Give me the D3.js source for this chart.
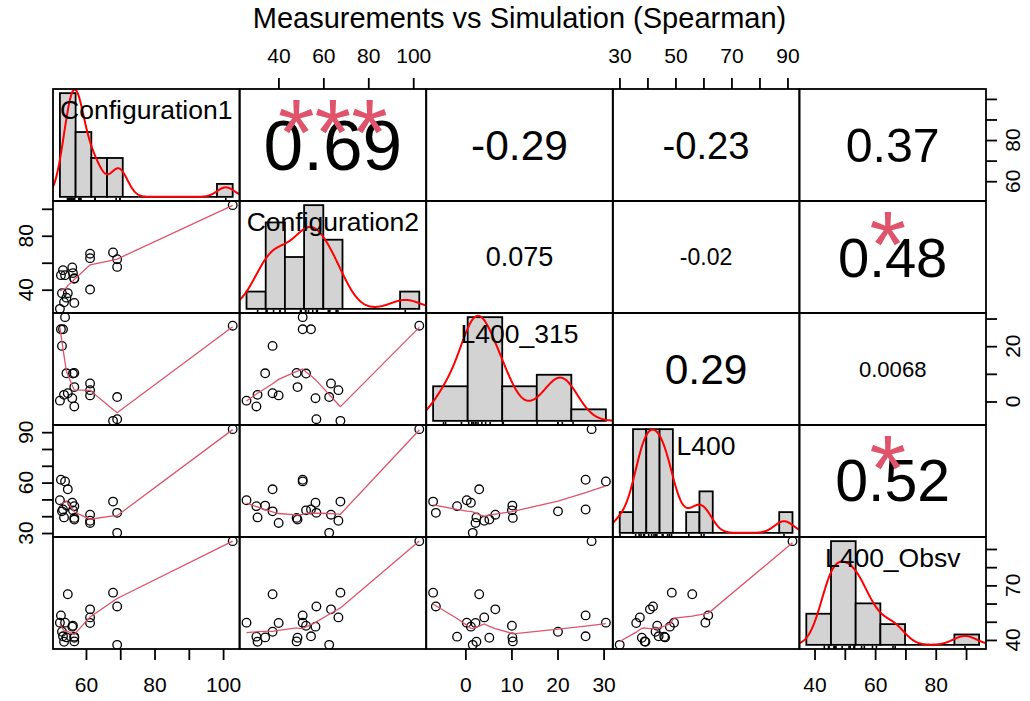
<!DOCTYPE html>
<html lang="en">
<head>
<meta charset="utf-8">
<script src="https://cdn.jsdelivr.net/npm/d3@7"></script>
<style>
  body { margin: 0; background: #fff; }
  text { font-family: "Liberation Sans", Arial, sans-serif; }
</style>
</head>
<body>
<script>
// ---- data ----
var varNames = ["Configuration1", "Configuration2", "L400_315", "L400", "L400_Obsv"];

var config1  = [102.8, 53.9, 52.7, 53.3, 53.0, 54.3, 54.7, 53.6, 52.4, 56.2, 56.6, 56.6, 56.6, 56.0, 61.2, 61.2, 61.2, 67.9, 69.1, 69.1];
var config2  = [102.7, 50.8, 50.8, 54.5, 37.4, 34.1, 37.4, 30.7, 25.8, 52.3, 30.2, 48.5, 48.1, 56.5, 63.4, 66.7, 40.1, 67.6, 62.6, 56.9];
var l400_315 = [27.4, 30.5, 26.1, 26.1, 20.1, 10.2, 3.0, 2.4, 0.3, 10.1, -1.8, 5.2, 10.3, 1.2, 6.5, 4.1, 2.2, -7.0, 1.6, -6.4];
var l400     = [91.8, 60.7, 61.7, 44.0, 42.9, 46.3, 56.0, 39.3, 49.5, 43.5, 46.0, 38.0, 39.0, 48.0, 40.9, 37.3, 36.0, 48.7, 30.1, 42.0];
var l400Obsv = [94.3, 49.5, 53.5, 42.0, 44.5, 41.4, 65.1, 39.0, 49.5, 47.8, 41.8, 41.2, 39.2, 47.3, 56.8, 52.4, 49.3, 66.0, 37.3, 58.4];

// histogram breaks per variable
var histBreaks = [
  [50, 55, 60, 65, 70, 75, 80, 85, 90, 95, 100, 105],
  [20, 30, 40, 50, 60, 70, 80, 90, 100, 110],
  [-10, 0, 10, 20, 30, 40],
  [30, 35, 40, 45, 50, 55, 60, 65, 70, 75, 80, 85, 90, 95],
  [30, 40, 50, 60, 70, 80, 90, 100]
];

// upper panels: spearman correlations
var corrPairs  = [[0, 1], [0, 2], [0, 3], [0, 4], [1, 2], [1, 3], [1, 4], [2, 3], [2, 4], [3, 4]];
var corrLabels = ["0.69", "-0.29", "-0.23", "0.37", "0.075", "-0.02", "0.48", "0.29", "0.0068", "0.52"];
var corrStars  = ["***", "", "", "", "", "", "*", "", "", "*"];

// axis ticks and the labels R kept
var axisTicks = [
  [60, 70, 80, 90, 100],
  [40, 60, 80, 100],
  [0, 10, 20, 30],
  [30, 40, 50, 60, 70, 80, 90],
  [40, 50, 60, 70, 80, 90]
];
var colTickLabels = [[60, 80, 100], [40, 60, 80, 100], [0, 10, 20, 30], [30, 50, 70, 90], [40, 60, 80]];
var rowTickLabels = [[60, 80], [40, 80], [0, 20], [30, 60, 90], [40, 70]];

var title = "Measurements vs Simulation (Spearman)";

// ---- layout ----
var width = 1030, height = 701;
var gLeft = 53, gRight = 986, gTop = 89, gBottom = 649;
var nv = 5;
var cw = (gRight - gLeft) / nv, rh = (gBottom - gTop) / nv;
var data = [config1, config2, l400_315, l400, l400Obsv];
var n = config1.length;

var svg = d3.select("body").append("svg")
    .attr("width", width)
    .attr("height", height);

// pairs() style scales: data range + 4%
function padded(ext) {
  var r = ext[1] - ext[0];
  return [ext[0] - 0.04 * r, ext[1] + 0.04 * r];
}
var xScales = data.map(function(d, j) {
  return d3.scaleLinear().domain(padded(d3.extent(d))).range([gLeft + j * cw, gLeft + (j + 1) * cw]);
});
var yScales = data.map(function(d, i) {
  return d3.scaleLinear().domain(padded(d3.extent(d))).range([gTop + (i + 1) * rh, gTop + i * rh]);
});

// clip paths
var defs = svg.append("defs");
for (var i = 0; i < nv; i++) for (var j = 0; j < nv; j++) {
  defs.append("clipPath").attr("id", "clip" + i + j)
    .append("rect").attr("x", gLeft + j * cw).attr("y", gTop + i * rh).attr("width", cw).attr("height", rh);
}

// ---- lowess (port of R clowess) ----
function lowest(x, y, n, xs, nleft, nright, userw, rw) {
  var range = x[n - 1] - x[0];
  var h = Math.max(xs - x[nleft], x[nright] - xs);
  var h9 = 0.999 * h, h1 = 0.001 * h;
  var w = new Array(n).fill(0);
  var a = 0, j = nleft;
  while (j < n) {
    w[j] = 0;
    var r = Math.abs(x[j] - xs);
    if (r <= h9) {
      if (r <= h1) w[j] = 1;
      else w[j] = Math.pow(1 - Math.pow(r / h, 3), 3);
      if (userw) w[j] *= rw[j];
      a += w[j];
    } else if (x[j] > xs) break;
    j++;
  }
  var nrt = j - 1;
  if (a <= 0) return null;
  for (j = nleft; j <= nrt; j++) w[j] /= a;
  if (h > 0) {
    a = 0;
    for (j = nleft; j <= nrt; j++) a += w[j] * x[j];
    var b = xs - a, c = 0;
    for (j = nleft; j <= nrt; j++) c += w[j] * (x[j] - a) * (x[j] - a);
    if (Math.sqrt(c) > 0.001 * range) {
      b /= c;
      for (j = nleft; j <= nrt; j++) w[j] *= (b * (x[j] - a) + 1);
    }
  }
  var ys = 0;
  for (j = nleft; j <= nrt; j++) ys += w[j] * y[j];
  return ys;
}

function lowess(xin, yin, f, iter) {
  var idx = d3.range(xin.length).sort(function(a, b) { return xin[a] - xin[b]; });
  var x = idx.map(function(k) { return xin[k]; }), y = idx.map(function(k) { return yin[k]; });
  var n = x.length;
  var delta = 0.01 * (x[n - 1] - x[0]);
  var ns = Math.max(2, Math.min(n, Math.floor(f * n + 1e-7)));
  var ys = new Array(n), rw = new Array(n).fill(1), res = new Array(n);
  for (var it = 0; it <= iter; it++) {
    var nleft = 0, nright = ns - 1, last = -1, i = 0;
    for (;;) {
      if (nright < n - 1) {
        var d1 = x[i] - x[nleft], d2 = x[nright + 1] - x[i];
        if (d1 > d2) { nleft++; nright++; continue; }
      }
      var v = lowest(x, y, n, x[i], nleft, nright, it > 0, rw);
      ys[i] = v === null ? y[i] : v;
      if (last < i - 1) {
        var denom = x[i] - x[last];
        for (var k = last + 1; k < i; k++) {
          var alpha = (x[k] - x[last]) / denom;
          ys[k] = alpha * ys[i] + (1 - alpha) * ys[last];
        }
      }
      last = i;
      var cut = x[last] + delta;
      for (i = last + 1; i < n; i++) {
        if (x[i] > cut) break;
        if (x[i] === x[last]) { ys[i] = ys[last]; last = i; }
      }
      i = Math.max(last + 1, i - 1);
      if (last >= n - 1) break;
    }
    for (i = 0; i < n; i++) res[i] = y[i] - ys[i];
    if (it >= iter) break;
    var ar = res.map(Math.abs);
    var s = ar.slice().sort(d3.ascending);
    var m1 = Math.floor(n / 2);
    var cmad = (n % 2 === 0) ? 3 * (s[m1] + s[m1 - 1]) : 6 * s[m1];
    var sc = d3.mean(ys.map(Math.abs));
    if (cmad < 1e-7 * sc) break;
    var c9 = 0.999 * cmad, c1 = 0.001 * cmad;
    for (i = 0; i < n; i++) {
      var r = ar[i];
      rw[i] = r <= c1 ? 1 : (r > c9 ? 0 : Math.pow(1 - (r / cmad) * (r / cmad), 2));
    }
  }
  return x.map(function(v, k) { return [v, ys[k]]; });
}

// ---- kernel density (R density(), bw.nrd0) ----
function density(x) {
  var q = x.slice().sort(d3.ascending), n = x.length;
  var iqr = d3.quantileSorted(q, 0.75) - d3.quantileSorted(q, 0.25);
  var bw = 0.9 * Math.min(d3.deviation(x), iqr / 1.34) * Math.pow(n, -0.2);
  var from = q[0] - 3 * bw, to = q[n - 1] + 3 * bw;
  return d3.range(512).map(function(k) {
    var t = from + (to - from) * k / 511;
    var s = d3.sum(x, function(v) { return Math.exp(-0.5 * Math.pow((t - v) / bw, 2)); });
    return [t, s / (n * bw * Math.sqrt(2 * Math.PI))];
  });
}

// ---- lower panels: scatter + smoother ----
for (var i = 0; i < nv; i++) for (var j = 0; j < i; j++) {
  var xs = xScales[j], ys = yScales[i];
  var g = svg.append("g").attr("clip-path", "url(#clip" + i + j + ")");
  var pts = d3.range(n).map(function(k) { return [data[j][k], data[i][k]]; });
  g.selectAll("circle").data(pts).enter().append("circle")
    .attr("cx", function(d) { return xs(d[0]); })
    .attr("cy", function(d) { return ys(d[1]); })
    .attr("r", 4.3)
    .style("fill", "none")
    .style("stroke", "#000")
    .style("stroke-width", 1.3);
  g.append("path")
    .attr("d", d3.line().x(function(d) { return xs(d[0]); }).y(function(d) { return ys(d[1]); })(lowess(data[j], data[i], 2 / 3, 3)))
    .style("fill", "none")
    .style("stroke", "#DF536B")
    .style("stroke-width", 1.3);
}

// ---- diagonal: histogram + density + rug + label ----
for (var d = 0; d < nv; d++) {
  var br = histBreaks[d];
  var vals = data[d];
  var bins = d3.range(br.length - 1).map(function(k) {
    var lo = br[k], hi = br[k + 1];
    var c = vals.filter(function(v) { return (k === 0 ? v >= lo : v > lo) && v <= hi; }).length;
    return { x0: lo, x1: hi, dens: c / (n * (hi - lo)) };
  });
  var dens = density(vals);
  var maxD = d3.max(bins, function(b) { return b.dens; });
  var hx = d3.scaleLinear().domain(padded([br[0], br[br.length - 1]])).range([gLeft + d * cw, gLeft + (d + 1) * cw]);
  var hy = d3.scaleLinear().domain([-0.04 * maxD, 1.04 * maxD]).range([gTop + (d + 1) * rh, gTop + d * rh]);
  var g = svg.append("g").attr("clip-path", "url(#clip" + d + d + ")");
  g.selectAll("rect").data(bins.filter(function(b) { return b.dens > 0; })).enter().append("rect")
    .attr("x", function(b) { return hx(b.x0); })
    .attr("y", function(b) { return hy(b.dens); })
    .attr("width", function(b) { return hx(b.x1) - hx(b.x0); })
    .attr("height", function(b) { return hy(0) - hy(b.dens); })
    .style("fill", "#d3d3d3")
    .style("stroke", "#000")
    .style("stroke-width", 1.8);
  // empty bins show as a flat line on the baseline, as in R
  g.selectAll("line.zero").data(bins.filter(function(b) { return b.dens === 0; })).enter().append("line")
    .attr("x1", function(b) { return hx(b.x0); })
    .attr("x2", function(b) { return hx(b.x1); })
    .attr("y1", hy(0)).attr("y2", hy(0))
    .style("stroke", "#000").style("stroke-width", 1.8);
  g.append("path")
    .attr("d", d3.line().x(function(p) { return hx(p[0]); }).y(function(p) { return hy(p[1]); })(dens))
    .style("fill", "none")
    .style("stroke", "red")
    .style("stroke-width", 2);
  var yb = gTop + (d + 1) * rh;
  g.selectAll("line.rug").data(vals).enter().append("line")
    .attr("x1", function(v) { return hx(v); }).attr("x2", function(v) { return hx(v); })
    .attr("y1", yb).attr("y2", yb - 0.03 * rh)
    .style("stroke", "#000").style("stroke-width", 1.6);
  svg.append("text")
    .attr("x", gLeft + (d + 0.5) * cw)
    .attr("y", gTop + d * rh + 29.5)
    .attr("text-anchor", "middle")
    .style("font-size", "26.5px")
    .style("fill", "#000")
    .text(varNames[d]);
}

// ---- upper panels: correlation text ----
corrPairs.forEach(function(p, k) {
  var i = p[0], j = p[1];
  var cx = gLeft + (j + 0.5) * cw, cy = gTop + (i + 0.5) * rh;
  var r = Math.abs(parseFloat(corrLabels[k]));
  svg.append("text")
    .attr("x", cx).attr("y", cy)
    .attr("text-anchor", "middle")
    .attr("dominant-baseline", "central")
    .style("font-size", (72 * (r + 0.3)) + "px")
    .style("fill", "#000")
    .text(corrLabels[k]);
  if (corrStars[k]) {
    svg.append("text")
      .attr("x", cx - (corrStars[k].length === 1 ? 5 : 0)).attr("y", gTop + i * rh + 0.675 * rh)
      .attr("text-anchor", "middle")
      .style("font-size", "94px")
      .style("fill", "#DF536B")
      .text(corrStars[k]);
  }
});

// ---- panel boxes ----
for (var i = 0; i < nv; i++) for (var j = 0; j < nv; j++) {
  svg.append("rect")
    .attr("x", gLeft + j * cw).attr("y", gTop + i * rh)
    .attr("width", cw).attr("height", rh)
    .style("fill", "none").style("stroke", "#000").style("stroke-width", 1.8);
}

// ---- axes ----
function styleAxis(g) {
  g.select(".domain").remove();
  g.selectAll(".tick line").style("stroke", "#000").style("stroke-width", 1.8);
  g.selectAll(".tick text").style("font-size", "21px").style("fill", "#000")
    .style("font-family", "'Liberation Sans', Arial, sans-serif");
}
[0, 2, 4].forEach(function(j) {
  svg.append("g").attr("transform", "translate(0," + gBottom + ")")
    .call(d3.axisBottom(xScales[j]).tickValues(axisTicks[j]).tickSize(11).tickPadding(17)
      .tickFormat(function(v) { return colTickLabels[j].indexOf(v) >= 0 ? v : ""; }))
    .call(styleAxis);
});
[1, 3].forEach(function(j) {
  svg.append("g").attr("transform", "translate(0," + gTop + ")")
    .call(d3.axisTop(xScales[j]).tickValues(axisTicks[j]).tickSize(11).tickPadding(15)
      .tickFormat(function(v) { return colTickLabels[j].indexOf(v) >= 0 ? v : ""; }))
    .call(styleAxis);
});
[1, 3].forEach(function(i) {
  svg.append("g").attr("transform", "translate(" + gLeft + ",0)")
    .call(d3.axisLeft(yScales[i]).tickValues(axisTicks[i]).tickSize(11).tickFormat(""))
    .call(styleAxis);
  svg.selectAll(null).data(rowTickLabels[i]).enter().append("text")
    .attr("transform", function(v) { return "translate(33," + yScales[i](v) + ") rotate(-90)"; })
    .attr("text-anchor", "middle")
    .style("font-size", "21px")
    .text(function(v) { return v; });
});
[0, 2, 4].forEach(function(i) {
  svg.append("g").attr("transform", "translate(" + gRight + ",0)")
    .call(d3.axisRight(yScales[i]).tickValues(axisTicks[i]).tickSize(11).tickFormat(""))
    .call(styleAxis);
  svg.selectAll(null).data(rowTickLabels[i]).enter().append("text")
    .attr("transform", function(v) { return "translate(1019.5," + yScales[i](v) + ") rotate(-90)"; })
    .attr("text-anchor", "middle")
    .style("font-size", "21px")
    .text(function(v) { return v; });
});

// ---- title ----
svg.append("text")
  .attr("x", (gLeft + gRight) / 2).attr("y", 28)
  .attr("text-anchor", "middle")
  .style("font-size", "29px")
  .style("fill", "#000")
  .text(title);
</script>
</body>
</html>
